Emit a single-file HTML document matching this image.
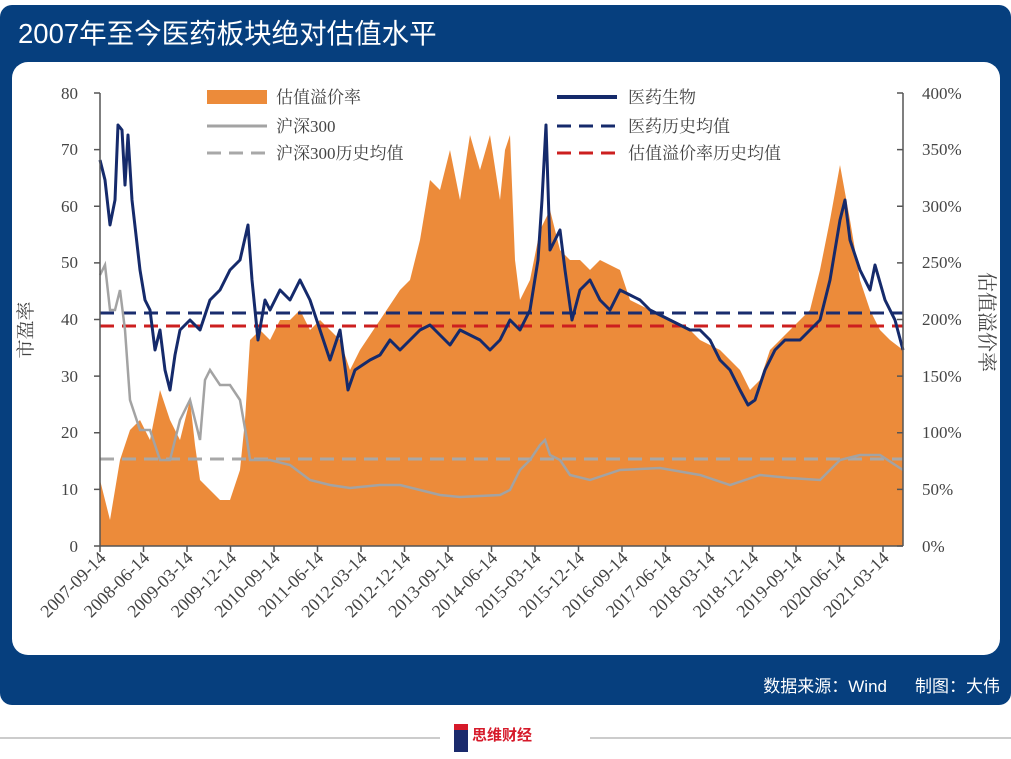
<!DOCTYPE html>
<html><head><meta charset="utf-8"><style>
html,body{margin:0;padding:0;background:#fff;}
body{width:1011px;height:754px;position:relative;overflow:hidden;font-family:"Liberation Sans","Noto Sans CJK SC",sans-serif;}
</style></head><body>
<svg width="1011" height="754" viewBox="0 0 1011 754" xmlns="http://www.w3.org/2000/svg">
<rect x="0" y="5" width="1011" height="700" rx="12" fill="#063f7e"/>
<text x="18" y="43" font-size="27.5" fill="#fff" font-family="Liberation Sans, Noto Sans CJK SC, sans-serif">2007年至今医药板块绝对估值水平</text>
<rect x="12" y="62" width="988" height="593" rx="16" fill="#fff"/>
<text x="887" y="692" font-size="17" fill="#fff" text-anchor="end" font-family="Liberation Sans, Noto Sans CJK SC, sans-serif">数据来源：Wind</text>
<text x="1000" y="692" font-size="17" fill="#fff" text-anchor="end" font-family="Liberation Sans, Noto Sans CJK SC, sans-serif">制图：大伟</text>
<line x1="0" y1="738" x2="440" y2="738" stroke="#bbb" stroke-width="1.5"/>
<line x1="590" y1="738" x2="1011" y2="738" stroke="#bbb" stroke-width="1.5"/>
<rect x="454" y="724" width="14" height="28" fill="#1a2a6c"/><rect x="454" y="724" width="14" height="6" fill="#d61a2a"/>
<text x="472" y="740" font-size="15" font-weight="bold" fill="#d61a2a" font-family="Noto Sans CJK SC, sans-serif">思维财经</text>

<g font-family="Liberation Serif, Noto Serif CJK SC, serif" fill="#444">
<polygon fill="#ec8b3a" points="100,546 100,480 110,520 120,460 130,430 140,420 150,440 160,390 170,420 180,440 190,400 195,445 200,480 210,490 220,500 230,500 240,470 245,420 250,340 260,330 270,340 280,320 290,320 300,310 310,330 320,320 340,340 350,370 360,350 380,320 400,290 410,280 420,240 430,180 440,190 450,150 460,200 470,135 480,170 490,135 500,200 505,150 510,135 515,260 520,300 530,280 540,230 550,210 560,250 570,260 580,260 590,270 600,260 620,270 630,300 650,310 670,320 690,330 700,340 720,350 730,360 740,370 750,390 760,380 770,350 780,340 800,320 810,310 820,270 830,220 840,165 850,220 860,280 870,310 880,330 890,340 903,350 903,546"/>
<line x1="100" y1="313" x2="903" y2="313" stroke="#1a2d6e" stroke-width="3" stroke-dasharray="14,8"/>
<line x1="100" y1="326" x2="903" y2="326" stroke="#cc1f1f" stroke-width="3" stroke-dasharray="14,8"/>
<line x1="100" y1="459" x2="903" y2="459" stroke="#a8a8a8" stroke-width="3" stroke-dasharray="14,8"/>
<polyline fill="none" stroke="#a3a3a3" stroke-width="2.5" points="100,275 105,265 110,310 115,310 120,290 125,330 130,400 140,430 150,430 160,460 170,460 180,420 190,400 200,440 205,380 210,370 220,385 230,385 240,400 247,440 250,460 270,460 290,465 310,480 330,485 350,488 380,485 400,485 420,490 440,495 460,497 500,495 510,490 520,470 530,460 540,445 545,440 550,455 560,460 570,475 590,480 620,470 660,468 700,475 730,485 760,475 790,478 820,480 840,460 860,455 880,455 903,470"/>
<polyline fill="none" stroke="#152a6b" stroke-width="3" stroke-linejoin="round" points="100,160 105,180 110,225 115,200 118,125 122,130 125,185 128,135 132,200 140,270 145,300 150,310 155,350 160,330 165,370 170,390 175,355 180,330 190,320 200,330 210,300 220,290 230,270 240,260 248,225 252,280 258,340 265,300 270,310 280,290 290,300 300,280 310,300 320,330 330,360 340,330 348,390 355,370 370,360 380,355 390,340 400,350 410,340 420,330 430,325 440,335 450,345 460,330 470,335 480,340 490,350 500,340 510,320 520,330 530,310 538,260 542,200 546,125 550,250 560,230 565,270 572,320 580,290 590,280 600,300 610,310 620,290 630,295 640,300 650,310 670,320 690,330 700,330 710,340 720,360 730,370 740,390 748,405 755,400 765,370 775,350 785,340 800,340 810,330 820,320 830,280 840,220 845,200 850,240 860,270 870,290 875,265 885,300 895,320 903,350"/>
<g stroke="#555" stroke-width="1.5" fill="none">
<line x1="100" y1="93" x2="100" y2="546"/><line x1="903" y1="93" x2="903" y2="546"/><line x1="100" y1="546" x2="903" y2="546"/>
<path d="M94,93h6M94,149.6h6M94,206.3h6M94,262.9h6M94,319.5h6M94,376.1h6M94,432.8h6M94,489.4h6M94,546h6"/>
<path d="M897,93h6M897,149.6h6M897,206.3h6M897,262.9h6M897,319.5h6M897,376.1h6M897,432.8h6M897,489.4h6M897,546h6"/>
<path d="M100,546v6M143.5,546v6M187,546v6M230.5,546v6M274,546v6M317.5,546v6M361,546v6M404.5,546v6M448,546v6M491.5,546v6M535,546v6M578.5,546v6M622,546v6M665.5,546v6M709,546v6M752.5,546v6M796,546v6M839.5,546v6M883,546v6"/>
</g>
<g font-size="17" text-anchor="end">
<text x="78" y="99">80</text><text x="78" y="155">70</text><text x="78" y="212">60</text><text x="78" y="268">50</text><text x="78" y="325">40</text><text x="78" y="382">30</text><text x="78" y="438">20</text><text x="78" y="495">10</text><text x="78" y="552">0</text>
</g>
<g font-size="17" text-anchor="start">
<text x="922" y="99">400%</text><text x="922" y="155">350%</text><text x="922" y="212">300%</text><text x="922" y="268">250%</text><text x="922" y="325">200%</text><text x="922" y="382">150%</text><text x="922" y="438">100%</text><text x="922" y="495">50%</text><text x="922" y="552">0%</text>
</g>
<text transform="translate(32,330) rotate(-90)" font-size="19" text-anchor="middle">市盈率</text>
<text transform="translate(980,322) rotate(90)" font-size="20" text-anchor="middle">估值溢价率</text>
<g font-size="18" text-anchor="end">
<text transform="translate(107,559) rotate(-45)">2007-09-14</text>
<text transform="translate(150.5,559) rotate(-45)">2008-06-14</text>
<text transform="translate(194,559) rotate(-45)">2009-03-14</text>
<text transform="translate(237.5,559) rotate(-45)">2009-12-14</text>
<text transform="translate(281,559) rotate(-45)">2010-09-14</text>
<text transform="translate(324.5,559) rotate(-45)">2011-06-14</text>
<text transform="translate(368,559) rotate(-45)">2012-03-14</text>
<text transform="translate(411.5,559) rotate(-45)">2012-12-14</text>
<text transform="translate(455,559) rotate(-45)">2013-09-14</text>
<text transform="translate(498.5,559) rotate(-45)">2014-06-14</text>
<text transform="translate(542,559) rotate(-45)">2015-03-14</text>
<text transform="translate(585.5,559) rotate(-45)">2015-12-14</text>
<text transform="translate(629,559) rotate(-45)">2016-09-14</text>
<text transform="translate(672.5,559) rotate(-45)">2017-06-14</text>
<text transform="translate(716,559) rotate(-45)">2018-03-14</text>
<text transform="translate(759.5,559) rotate(-45)">2018-12-14</text>
<text transform="translate(803,559) rotate(-45)">2019-09-14</text>
<text transform="translate(846.5,559) rotate(-45)">2020-06-14</text>
<text transform="translate(890,559) rotate(-45)">2021-03-14</text>
</g>
<rect x="207" y="90" width="60" height="14" fill="#ec8b3a"/>
<text x="276" y="103" font-size="17">估值溢价率</text>
<line x1="557" y1="97" x2="617" y2="97" stroke="#152a6b" stroke-width="4"/>
<text x="628" y="103" font-size="17">医药生物</text>
<line x1="207" y1="126" x2="267" y2="126" stroke="#a3a3a3" stroke-width="3"/>
<text x="276" y="132" font-size="17">沪深300</text>
<line x1="557" y1="126" x2="617" y2="126" stroke="#152a6b" stroke-width="3" stroke-dasharray="14,8"/>
<text x="628" y="132" font-size="17">医药历史均值</text>
<line x1="207" y1="153" x2="267" y2="153" stroke="#a8a8a8" stroke-width="3" stroke-dasharray="14,8"/>
<text x="276" y="159" font-size="17">沪深300历史均值</text>
<line x1="557" y1="153" x2="617" y2="153" stroke="#cc1f1f" stroke-width="3" stroke-dasharray="14,8"/>
<text x="628" y="159" font-size="17">估值溢价率历史均值</text>
</g>
</svg>
</body></html>
